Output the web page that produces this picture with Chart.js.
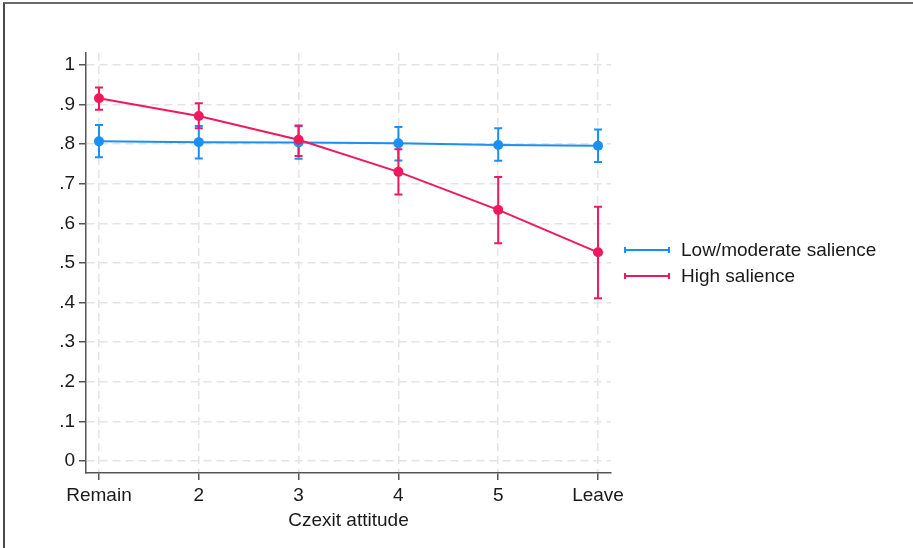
<!DOCTYPE html>
<html lang="en">
<head>
  <meta charset="UTF-8" />
  <title>Czexit attitude</title>
  <script src="https://cdn.jsdelivr.net/npm/chart.js"></script>
  <style>
    * { box-sizing: border-box; margin: 0; padding: 0; }
    body { background: #ffffff; width: 913px; height: 548px; overflow: hidden; }
    .wrap { position: relative; width: 913px; height: 548px; }
    .frame {
      position: absolute; top: 2px; left: 3px; right: 0; bottom: 0;
      border-top: 2px solid #6a6a6a; border-left: 2px solid #4a4a4a;
      pointer-events: none;
    }
  </style>
</head>
<body>
  <div class="wrap">
    <canvas id="chart"></canvas>
    <div class="frame"></div>
  </div>

  <script>
    const categories = ['Remain', '2', '3', '4', '5', 'Leave'];
    const yTickValues = [0, 0.1, 0.2, 0.3, 0.4, 0.5, 0.6, 0.7, 0.8, 0.9, 1];
    const yTickLabels = ['0', '.1', '.2', '.3', '.4', '.5', '.6', '.7', '.8', '.9', '1'];
    const seriesNames = ['Low/moderate salience', 'High salience'];

    const lowMean = [0.807, 0.805, 0.804, 0.802, 0.798, 0.796];
    const lowLo = [0.767, 0.764, 0.763, 0.759, 0.758, 0.755];
    const lowHi = [0.848, 0.846, 0.845, 0.843, 0.840, 0.837];

    const highMean = [0.916, 0.871, 0.811, 0.730, 0.634, 0.527];
    const highLo = [0.887, 0.840, 0.770, 0.673, 0.550, 0.411];
    const highHi = [0.943, 0.903, 0.847, 0.787, 0.717, 0.642];

    const blue = '#1b8ff2';
    const red = '#ef1a5c';
    const font = "'Liberation Sans', Arial, sans-serif";

    const toPoints = arr => arr.map((v, i) => ({ x: i, y: v }));

    // draws the confidence interval bars under the lines
    const errorBars = {
      id: 'errorBars',
      beforeDatasetsDraw(chart) {
        const { ctx, scales: { x, y } } = chart;
        ctx.save();
        chart.data.datasets.forEach(ds => {
          ctx.strokeStyle = ds.borderColor;
          ctx.lineWidth = 2;
          ds.errLo.forEach((lo, i) => {
            const px = x.getPixelForValue(i);
            const pLo = y.getPixelForValue(lo);
            const pHi = y.getPixelForValue(ds.errHi[i]);
            ctx.beginPath();
            ctx.moveTo(px, pLo); ctx.lineTo(px, pHi);
            ctx.moveTo(px - 4, pLo); ctx.lineTo(px + 4, pLo);
            ctx.moveTo(px - 4, pHi); ctx.lineTo(px + 4, pHi);
            ctx.stroke();
          });
        });
        ctx.restore();
      }
    };

    // legend at the right, line with small end caps
    const sideLegend = {
      id: 'sideLegend',
      afterDraw(chart) {
        const { ctx } = chart;
        ctx.save();
        ctx.font = '19px ' + font;
        ctx.textBaseline = 'middle';
        chart.data.datasets.forEach((ds, i) => {
          const yy = 250 + i * 26;
          ctx.strokeStyle = ds.borderColor;
          ctx.lineWidth = 2;
          ctx.beginPath();
          ctx.moveTo(625, yy); ctx.lineTo(669, yy);
          ctx.moveTo(625, yy - 3); ctx.lineTo(625, yy + 3);
          ctx.moveTo(669, yy - 3); ctx.lineTo(669, yy + 3);
          ctx.stroke();
          ctx.fillStyle = '#1a1a1a';
          ctx.fillText(ds.label, 681, yy + 1);
        });
        ctx.restore();
      }
    };

    const chart = new Chart(document.getElementById('chart'), {
      type: 'line',
      data: {
        datasets: [
          {
            label: seriesNames[0],
            data: toPoints(lowMean),
            errLo: lowLo,
            errHi: lowHi,
            borderColor: blue,
            backgroundColor: blue,
            borderWidth: 2,
            pointRadius: 5,
            pointBorderWidth: 0,
            tension: 0,
            order: 2
          },
          {
            label: seriesNames[1],
            data: toPoints(highMean),
            errLo: highLo,
            errHi: highHi,
            borderColor: red,
            backgroundColor: red,
            borderWidth: 2,
            pointRadius: 5,
            pointBorderWidth: 0,
            tension: 0,
            order: 1
          }
        ]
      },
      options: {
        responsive: true,
        maintainAspectRatio: false,
        animation: false,
        layout: { padding: { top: 53, right: 302, left: 0, bottom: 0 } },
        plugins: {
          legend: { display: false },
          tooltip: { enabled: false }
        },
        scales: {
          x: {
            type: 'linear',
            min: -0.13,
            max: 5.13,
            afterBuildTicks: s => { s.ticks = categories.map((c, i) => ({ value: i })); },
            afterFit: s => { s.height = 75; },
            ticks: {
              autoSkip: false,
              maxRotation: 0,
              padding: 4,
              color: '#1a1a1a',
              font: { family: font, size: 19 },
              callback: v => categories[v]
            },
            grid: {
              color: '#e4e4e4',
              lineWidth: 1.5,
              tickColor: '#555',
              tickLength: 7,
              tickWidth: 1.5
            },
            border: { color: '#555', width: 1.5, dash: [8, 5] },
            title: {
              display: true,
              text: 'Czexit attitude',
              color: '#1a1a1a',
              font: { family: font, size: 19 },
              padding: { top: 0, bottom: 16 }
            }
          },
          y: {
            min: -0.03,
            max: 1.03,
            afterBuildTicks: s => { s.ticks = yTickValues.map(v => ({ value: v })); },
            afterFit: s => { s.width = 86; },
            ticks: {
              padding: 4,
              color: '#1a1a1a',
              font: { family: font, size: 19 },
              callback: (v, i) => yTickLabels[i]
            },
            grid: {
              color: '#e4e4e4',
              lineWidth: 1.5,
              tickColor: '#555',
              tickLength: 7,
              tickWidth: 1.5
            },
            border: { color: '#555', width: 1.5, dash: [8, 5] }
          }
        }
      },
      plugins: [errorBars, sideLegend]
    });
  </script>
</body>
</html>
